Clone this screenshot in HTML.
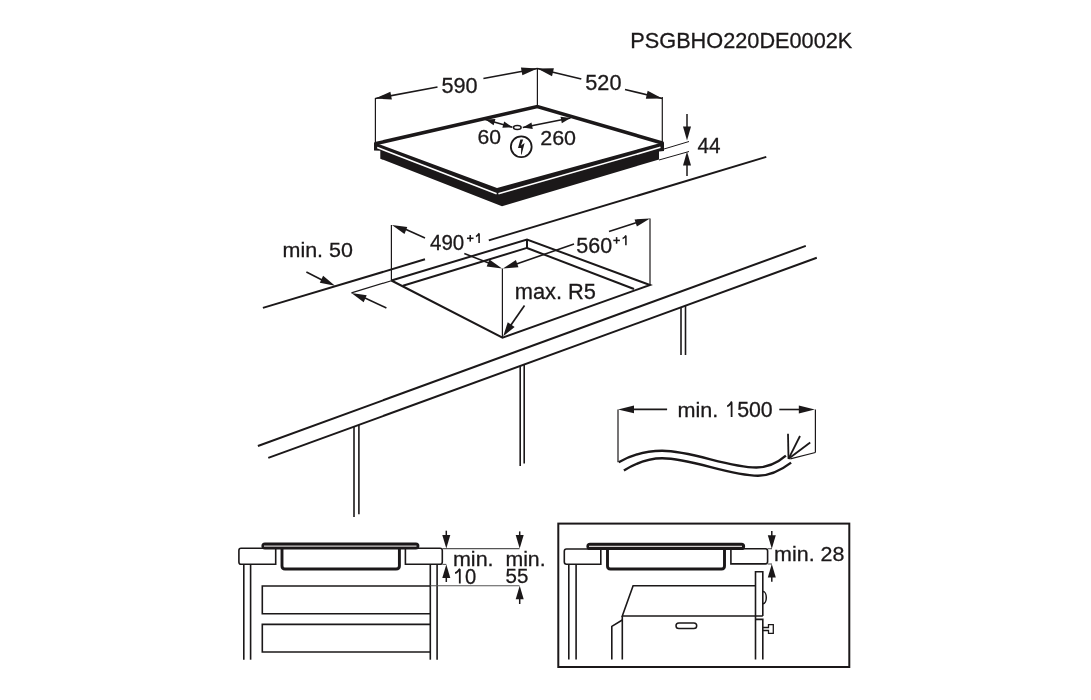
<!DOCTYPE html>
<html><head><meta charset="utf-8"><style>
html,body{margin:0;padding:0;background:#fff;width:1091px;height:700px;overflow:hidden}
svg{display:block;will-change:transform}
text{font-family:"Liberation Sans",sans-serif;fill:#1b1819;stroke:#1b1819;stroke-width:0.3px;paint-order:stroke}
</style></head><body>
<svg width="1091" height="700" viewBox="0 0 1091 700">
<polygon points="374.00,142.30 497.00,188.00 664.00,142.00 664.00,151.00 659.00,151.40 659.00,159.40 502.00,206.20 380.30,158.70 380.30,150.80 374.00,150.60" fill="#1b1819" stroke="none" stroke-width="0" />
<polyline points="377.20,147.60 496.60,193.70" fill="none" stroke="#fff" stroke-width="1.6" stroke-linejoin="miter" stroke-linecap="butt"/>
<polyline points="498.40,193.70 660.50,147.30" fill="none" stroke="#fff" stroke-width="1.6" stroke-linejoin="miter" stroke-linecap="butt"/>
<polyline points="375.00,143.80 537.30,106.50 663.00,143.30" fill="none" stroke="#1b1819" stroke-width="3.6" stroke-linejoin="miter" stroke-linecap="butt"/>
<line x1="375.40" y1="98.00" x2="375.40" y2="142.00" stroke="#1b1819" stroke-width="1.2" stroke-linecap="butt"/>
<line x1="537.40" y1="68.00" x2="537.40" y2="106.00" stroke="#1b1819" stroke-width="1.2" stroke-linecap="butt"/>
<line x1="662.30" y1="97.00" x2="662.30" y2="142.00" stroke="#1b1819" stroke-width="1.2" stroke-linecap="butt"/>
<line x1="375.40" y1="98.50" x2="437.50" y2="87.00" stroke="#1b1819" stroke-width="1.7" stroke-linecap="butt"/>
<polygon points="375.40,98.50 390.40,91.65 391.86,99.52" fill="#1b1819" stroke="none" stroke-width="0" />
<line x1="483.40" y1="78.50" x2="537.40" y2="68.50" stroke="#1b1819" stroke-width="1.7" stroke-linecap="butt"/>
<polygon points="537.40,68.50 522.40,75.35 520.94,67.48" fill="#1b1819" stroke="none" stroke-width="0" />
<line x1="537.40" y1="68.50" x2="581.30" y2="79.00" stroke="#1b1819" stroke-width="1.7" stroke-linecap="butt"/>
<polygon points="537.40,68.50 553.89,68.35 552.02,76.13" fill="#1b1819" stroke="none" stroke-width="0" />
<line x1="625.00" y1="89.50" x2="662.30" y2="98.50" stroke="#1b1819" stroke-width="1.7" stroke-linecap="butt"/>
<polygon points="662.30,98.50 645.81,98.65 647.68,90.87" fill="#1b1819" stroke="none" stroke-width="0" />
<line x1="664.00" y1="149.00" x2="689.00" y2="141.50" stroke="#1b1819" stroke-width="1.0" stroke-linecap="butt"/>
<line x1="659.00" y1="160.00" x2="689.00" y2="151.50" stroke="#1b1819" stroke-width="1.0" stroke-linecap="butt"/>
<line x1="687.00" y1="114.00" x2="687.00" y2="130.00" stroke="#1b1819" stroke-width="1.5" stroke-linecap="butt"/>
<polygon points="687.00,140.60 683.00,126.60 691.00,126.60" fill="#1b1819" stroke="none" stroke-width="0" />
<line x1="687.00" y1="176.00" x2="687.00" y2="160.00" stroke="#1b1819" stroke-width="1.5" stroke-linecap="butt"/>
<polygon points="687.00,151.40 691.00,165.40 683.00,165.40" fill="#1b1819" stroke="none" stroke-width="0" />
<line x1="485.40" y1="119.50" x2="512.40" y2="127.20" stroke="#1b1819" stroke-width="1.5" stroke-linecap="butt"/>
<polygon points="485.40,119.50 495.44,118.93 493.63,125.28" fill="#1b1819" stroke="none" stroke-width="0" />
<polygon points="512.40,127.20 502.36,127.77 504.17,121.42" fill="#1b1819" stroke="none" stroke-width="0" />
<line x1="522.80" y1="127.60" x2="570.50" y2="118.10" stroke="#1b1819" stroke-width="1.5" stroke-linecap="butt"/>
<polygon points="522.80,127.60 531.47,122.51 532.76,128.98" fill="#1b1819" stroke="none" stroke-width="0" />
<polygon points="570.50,118.10 561.83,123.19 560.54,116.72" fill="#1b1819" stroke="none" stroke-width="0" />
<ellipse cx="517.3" cy="127.5" rx="3.8" ry="2" fill="#fff" stroke="#1b1819" stroke-width="1.5"/>
<circle cx="521.25" cy="146.75" r="10.4" fill="none" stroke="#1b1819" stroke-width="1.8"/>
<polygon points="520.40,139.40 523.20,139.40 521.00,145.60 524.60,143.00 521.60,154.60 521.00,154.60 521.20,148.00 518.00,147.90" fill="#1b1819" stroke="none" stroke-width="0" />
<line x1="262.90" y1="307.90" x2="425.00" y2="259.30" stroke="#1b1819" stroke-width="2" stroke-linecap="butt"/>
<line x1="488.80" y1="240.40" x2="766.30" y2="156.90" stroke="#1b1819" stroke-width="2" stroke-linecap="butt"/>
<line x1="257.90" y1="446.00" x2="805.80" y2="245.90" stroke="#1b1819" stroke-width="2" stroke-linecap="butt"/>
<line x1="268.30" y1="457.90" x2="816.80" y2="257.80" stroke="#1b1819" stroke-width="2" stroke-linecap="butt"/>
<line x1="354.00" y1="426.50" x2="354.00" y2="517.00" stroke="#1b1819" stroke-width="1.6" stroke-linecap="butt"/>
<line x1="358.90" y1="425.00" x2="358.90" y2="514.30" stroke="#1b1819" stroke-width="1.6" stroke-linecap="butt"/>
<line x1="520.20" y1="366.00" x2="520.20" y2="466.00" stroke="#1b1819" stroke-width="1.6" stroke-linecap="butt"/>
<line x1="524.20" y1="364.50" x2="524.20" y2="463.60" stroke="#1b1819" stroke-width="1.6" stroke-linecap="butt"/>
<line x1="681.00" y1="307.50" x2="681.00" y2="355.00" stroke="#1b1819" stroke-width="1.6" stroke-linecap="butt"/>
<line x1="685.50" y1="306.00" x2="685.50" y2="355.00" stroke="#1b1819" stroke-width="1.6" stroke-linecap="butt"/>
<line x1="391.40" y1="225.00" x2="391.40" y2="280.70" stroke="#1b1819" stroke-width="1.2" stroke-linecap="butt"/>
<line x1="502.40" y1="268.60" x2="502.40" y2="337.50" stroke="#1b1819" stroke-width="1.2" stroke-linecap="butt"/>
<line x1="650.00" y1="218.40" x2="650.00" y2="285.00" stroke="#1b1819" stroke-width="1.2" stroke-linecap="butt"/>
<polyline points="391.40,280.50 527.00,239.50 650.00,285.00 502.50,337.60 391.40,280.50" fill="none" stroke="#1b1819" stroke-width="2" stroke-linejoin="miter" stroke-linecap="butt"/>
<line x1="402.90" y1="285.70" x2="527.00" y2="247.90" stroke="#1b1819" stroke-width="2" stroke-linecap="butt"/>
<line x1="527.00" y1="239.50" x2="527.00" y2="248.00" stroke="#1b1819" stroke-width="2" stroke-linecap="butt"/>
<line x1="527.00" y1="248.00" x2="634.00" y2="289.00" stroke="#1b1819" stroke-width="2" stroke-linecap="butt"/>
<line x1="306.40" y1="272.00" x2="323.00" y2="280.50" stroke="#1b1819" stroke-width="1.6" stroke-linecap="butt"/>
<polygon points="335.00,285.70 319.83,282.65 323.11,275.79" fill="#1b1819" stroke="none" stroke-width="0" />
<line x1="351.40" y1="292.90" x2="391.40" y2="280.70" stroke="#1b1819" stroke-width="1.2" stroke-linecap="butt"/>
<line x1="386.40" y1="307.90" x2="365.00" y2="298.00" stroke="#1b1819" stroke-width="1.6" stroke-linecap="butt"/>
<polygon points="351.40,292.90 366.68,295.32 363.69,302.30" fill="#1b1819" stroke="none" stroke-width="0" />
<line x1="425.00" y1="237.90" x2="405.00" y2="229.00" stroke="#1b1819" stroke-width="1.6" stroke-linecap="butt"/>
<polygon points="391.90,225.00 407.26,226.91 404.50,233.99" fill="#1b1819" stroke="none" stroke-width="0" />
<line x1="464.30" y1="253.60" x2="490.00" y2="263.50" stroke="#1b1819" stroke-width="1.6" stroke-linecap="butt"/>
<polygon points="502.00,268.60 486.66,266.59 489.47,259.52" fill="#1b1819" stroke="none" stroke-width="0" />
<line x1="574.00" y1="244.00" x2="515.00" y2="264.50" stroke="#1b1819" stroke-width="1.6" stroke-linecap="butt"/>
<polygon points="503.00,268.60 515.93,260.10 518.42,267.28" fill="#1b1819" stroke="none" stroke-width="0" />
<line x1="609.00" y1="231.60" x2="636.00" y2="222.80" stroke="#1b1819" stroke-width="1.6" stroke-linecap="butt"/>
<polygon points="650.00,218.40 636.89,226.61 634.56,219.38" fill="#1b1819" stroke="none" stroke-width="0" />
<line x1="524.50" y1="305.50" x2="507.99" y2="329.30" stroke="#1b1819" stroke-width="1.7" stroke-linecap="butt"/>
<polygon points="503.20,336.20 507.73,322.30 514.63,327.09" fill="#1b1819" stroke="none" stroke-width="0" />
<line x1="618.00" y1="409.40" x2="618.00" y2="462.30" stroke="#1b1819" stroke-width="1.2" stroke-linecap="butt"/>
<line x1="630.00" y1="409.40" x2="667.10" y2="409.40" stroke="#1b1819" stroke-width="1.6" stroke-linecap="butt"/>
<polygon points="618.00,409.40 634.00,405.50 634.00,413.30" fill="#1b1819" stroke="none" stroke-width="0" />
<line x1="779.30" y1="409.50" x2="800.00" y2="409.50" stroke="#1b1819" stroke-width="1.6" stroke-linecap="butt"/>
<polygon points="814.80,409.50 798.80,413.40 798.80,405.60" fill="#1b1819" stroke="none" stroke-width="0" />
<line x1="815.40" y1="409.50" x2="815.40" y2="452.50" stroke="#1b1819" stroke-width="1.2" stroke-linecap="butt"/>
<line x1="815.40" y1="452.50" x2="790.30" y2="458.80" stroke="#1b1819" stroke-width="1.2" stroke-linecap="butt"/>
<path d="M618.7,462.3 C632,454.5 647,450.8 662.2,450.8 C692,450.8 728,467.5 756.3,467.5 C768,467.5 778,462.5 785.9,455.7" fill="none" stroke="#1b1819" stroke-width="2.4"/>
<path d="M623.9,470.5 C637,462.5 648,458.3 662.2,458.3 C692,458.3 729,475.7 758,475.7 C770,475.7 782,469.5 791.1,462.6" fill="none" stroke="#1b1819" stroke-width="2.4"/>
<line x1="788.50" y1="458.80" x2="788.00" y2="433.70" stroke="#1b1819" stroke-width="1.8" stroke-linecap="butt"/>
<line x1="788.50" y1="458.80" x2="800.00" y2="436.00" stroke="#1b1819" stroke-width="1.8" stroke-linecap="butt"/>
<line x1="788.50" y1="458.80" x2="810.20" y2="442.50" stroke="#1b1819" stroke-width="1.8" stroke-linecap="butt"/>
<path d="M275.7,548.3 H241 Q238.9,548.3 238.9,550.5 V562 Q238.9,564.3 241,564.3 H275.7 Z" fill="none" stroke="#1b1819" stroke-width="1.6"/>
<path d="M405.4,548.3 H440 Q442.3,548.3 442.3,550.5 V562 Q442.3,564.3 440,564.3 H405.4 Z" fill="none" stroke="#1b1819" stroke-width="1.6"/>
<rect x="261.4" y="542.6" width="158" height="7" rx="3.5" fill="#1b1819"/>
<line x1="264.00" y1="546.10" x2="416.50" y2="546.10" stroke="#d0cccc" stroke-width="1.2" stroke-linecap="butt"/>
<path d="M282,549 V566 Q282,569 285,569 H396 Q399.4,569 399.4,566 V549" fill="none" stroke="#1b1819" stroke-width="2.9"/>
<line x1="243.80" y1="564.30" x2="243.80" y2="659.70" stroke="#1b1819" stroke-width="1.6" stroke-linecap="butt"/>
<line x1="250.60" y1="564.30" x2="250.60" y2="659.70" stroke="#1b1819" stroke-width="1.6" stroke-linecap="butt"/>
<line x1="430.30" y1="564.30" x2="430.30" y2="659.70" stroke="#1b1819" stroke-width="1.6" stroke-linecap="butt"/>
<line x1="437.10" y1="564.30" x2="437.10" y2="659.70" stroke="#1b1819" stroke-width="1.6" stroke-linecap="butt"/>
<path d="M430.3,586 H262.3 V613.7 H430.3 M430.3,624.4 H262.3 V652 H430.3" fill="none" stroke="#1b1819" stroke-width="1.6"/>
<line x1="442.30" y1="548.60" x2="519.50" y2="548.60" stroke="#555" stroke-width="1.1" stroke-linecap="butt"/>
<line x1="442.30" y1="564.40" x2="446.30" y2="564.40" stroke="#555" stroke-width="1.1" stroke-linecap="butt"/>
<line x1="430.30" y1="585.80" x2="519.50" y2="585.80" stroke="#555" stroke-width="1.1" stroke-linecap="butt"/>
<line x1="446.30" y1="530.70" x2="446.30" y2="538.00" stroke="#1b1819" stroke-width="1.5" stroke-linecap="butt"/>
<polygon points="446.30,548.60 442.30,535.10 450.30,535.10" fill="#1b1819" stroke="none" stroke-width="0" />
<line x1="446.30" y1="582.00" x2="446.30" y2="575.00" stroke="#1b1819" stroke-width="1.5" stroke-linecap="butt"/>
<polygon points="446.30,564.40 450.30,577.90 442.30,577.90" fill="#1b1819" stroke="none" stroke-width="0" />
<line x1="519.70" y1="531.40" x2="519.70" y2="538.00" stroke="#1b1819" stroke-width="1.5" stroke-linecap="butt"/>
<polygon points="519.70,548.60 515.70,535.10 523.70,535.10" fill="#1b1819" stroke="none" stroke-width="0" />
<line x1="519.70" y1="604.00" x2="519.70" y2="596.00" stroke="#1b1819" stroke-width="1.5" stroke-linecap="butt"/>
<polygon points="519.70,585.70 523.70,599.20 515.70,599.20" fill="#1b1819" stroke="none" stroke-width="0" />
<rect x="558.3" y="523.6" width="291" height="143.4" fill="none" stroke="#1b1819" stroke-width="2"/>
<path d="M600.8,549 H566.5 Q564.3,549 564.3,551.2 V562 Q564.3,564.2 566.5,564.2 H600.8 Z" fill="none" stroke="#1b1819" stroke-width="1.6"/>
<path d="M730.9,548.7 H765.5 Q767.6,548.7 767.6,551 V561.6 Q767.6,563.9 765.5,563.9 H730.9 Z" fill="none" stroke="#1b1819" stroke-width="1.6"/>
<rect x="586.4" y="542.7" width="158.7" height="7.3" rx="3.6" fill="#1b1819"/>
<line x1="589.00" y1="546.30" x2="742.00" y2="546.30" stroke="#d0cccc" stroke-width="1.2" stroke-linecap="butt"/>
<path d="M607.5,549 V566 Q607.5,569 610.5,569 H721.5 Q724.5,569 724.5,566 V549" fill="none" stroke="#1b1819" stroke-width="2.9"/>
<line x1="568.80" y1="564.20" x2="568.80" y2="659.50" stroke="#1b1819" stroke-width="1.6" stroke-linecap="butt"/>
<line x1="576.10" y1="564.20" x2="576.10" y2="659.50" stroke="#1b1819" stroke-width="1.6" stroke-linecap="butt"/>
<polyline points="755.50,585.80 633.10,585.80 622.30,616.00 762.80,616.00" fill="none" stroke="#1b1819" stroke-width="1.6" stroke-linejoin="miter" stroke-linecap="butt"/>
<line x1="622.30" y1="616.00" x2="622.30" y2="659.50" stroke="#1b1819" stroke-width="1.6" stroke-linecap="butt"/>
<polyline points="611.80,659.50 611.80,626.40 622.30,620.00" fill="none" stroke="#1b1819" stroke-width="1.6" stroke-linejoin="miter" stroke-linecap="butt"/>
<rect x="676" y="622.9" width="20.7" height="5.7" rx="2.85" fill="none" stroke="#1b1819" stroke-width="1.5"/>
<polyline points="755.50,659.50 755.50,571.80 762.80,571.80 762.80,616.00" fill="none" stroke="#1b1819" stroke-width="1.6" stroke-linejoin="miter" stroke-linecap="butt"/>
<polyline points="755.50,619.40 762.80,619.40 762.80,659.50" fill="none" stroke="#1b1819" stroke-width="1.6" stroke-linejoin="miter" stroke-linecap="butt"/>
<path d="M763,591.5 A3.3,6.1 0 0 1 763,603.7" fill="none" stroke="#1b1819" stroke-width="1.5"/>
<polyline points="762.80,627.50 768.50,627.50 768.50,624.60 773.30,624.60 773.30,633.30 768.50,633.30 768.50,630.50 762.80,630.50" fill="none" stroke="#1b1819" stroke-width="1.3" stroke-linejoin="miter" stroke-linecap="butt"/>
<line x1="767.60" y1="548.70" x2="772.00" y2="548.70" stroke="#555" stroke-width="1.1" stroke-linecap="butt"/>
<line x1="767.60" y1="564.00" x2="772.00" y2="564.00" stroke="#555" stroke-width="1.1" stroke-linecap="butt"/>
<line x1="771.80" y1="531.00" x2="771.80" y2="538.00" stroke="#1b1819" stroke-width="1.5" stroke-linecap="butt"/>
<polygon points="771.80,548.70 767.80,535.20 775.80,535.20" fill="#1b1819" stroke="none" stroke-width="0" />
<line x1="771.80" y1="581.80" x2="771.80" y2="574.00" stroke="#1b1819" stroke-width="1.5" stroke-linecap="butt"/>
<polygon points="771.80,564.00 775.80,577.50 767.80,577.50" fill="#1b1819" stroke="none" stroke-width="0" />
<text transform="translate(630.31,47.70) scale(0.987,0.980)" font-size="22">PSGBHO220DE0002K</text>
<text transform="translate(441.51,92.60) scale(0.986,1.007)" font-size="22">590</text>
<text transform="translate(585.31,90.30) scale(0.986,0.993)" font-size="22">520</text>
<text transform="translate(697.60,153.30) scale(0.942,0.987)" font-size="22">44</text>
<text transform="translate(477.54,143.80) scale(0.961,0.947)" font-size="22">60</text>
<text transform="translate(540.22,145.40) scale(0.977,0.960)" font-size="22">260</text>
<text transform="translate(282.52,257.30) scale(0.976,0.956)" font-size="22">min. 50</text>
<text transform="translate(430.00,250.20) scale(0.933,0.987)" font-size="22">490</text>
<text transform="translate(576.32,252.80) scale(0.977,1.027)" font-size="22">560</text>
<text transform="translate(514.71,298.50) scale(0.992,1.013)" font-size="22">max. R5</text>
<text transform="translate(677.52,416.90) scale(0.982,0.938)" font-size="22">min.</text>
<text transform="translate(737.13,416.70) scale(0.969,1.007)" font-size="22">500</text>
<text transform="translate(452.92,565.60) scale(0.979,0.919)" font-size="22">min.</text>
<text transform="translate(464.88,583.50) scale(0.918,0.980)" font-size="22">0</text>
<text transform="translate(505.43,565.60) scale(0.967,0.919)" font-size="22">min.</text>
<text transform="translate(505.47,583.40) scale(0.935,0.960)" font-size="22">55</text>
<text transform="translate(774.12,561.00) scale(0.976,0.938)" font-size="22">min. 28</text>
<line x1="466.95" y1="238.30" x2="473.55" y2="238.30" stroke="#1b1819" stroke-width="1.55" stroke-linecap="butt"/>
<line x1="470.25" y1="235.00" x2="470.25" y2="241.60" stroke="#1b1819" stroke-width="1.55" stroke-linecap="butt"/>
<path d="M479.10,243.10 V233.90 M475.90,236.40 C477.50,236.10 478.50,234.50 479.30,233.30" fill="none" stroke="#1b1819" stroke-width="1.55"/>
<line x1="613.30" y1="240.40" x2="619.90" y2="240.40" stroke="#1b1819" stroke-width="1.55" stroke-linecap="butt"/>
<line x1="616.60" y1="237.10" x2="616.60" y2="243.70" stroke="#1b1819" stroke-width="1.55" stroke-linecap="butt"/>
<path d="M625.90,245.30 V236.00 M622.60,238.50 C624.20,238.20 625.30,236.60 626.10,235.40" fill="none" stroke="#1b1819" stroke-width="1.55"/>
<path d="M731.60,416.90 V402.40 M727.20,406.30 C729.40,405.80 730.70,403.20 731.80,401.60" fill="none" stroke="#1b1819" stroke-width="1.8"/>
<path d="M459.80,583.60 V569.50 M455.10,573.20 C457.30,572.70 458.90,570.30 460.00,568.70" fill="none" stroke="#1b1819" stroke-width="1.8"/>
</svg>
</body></html>
